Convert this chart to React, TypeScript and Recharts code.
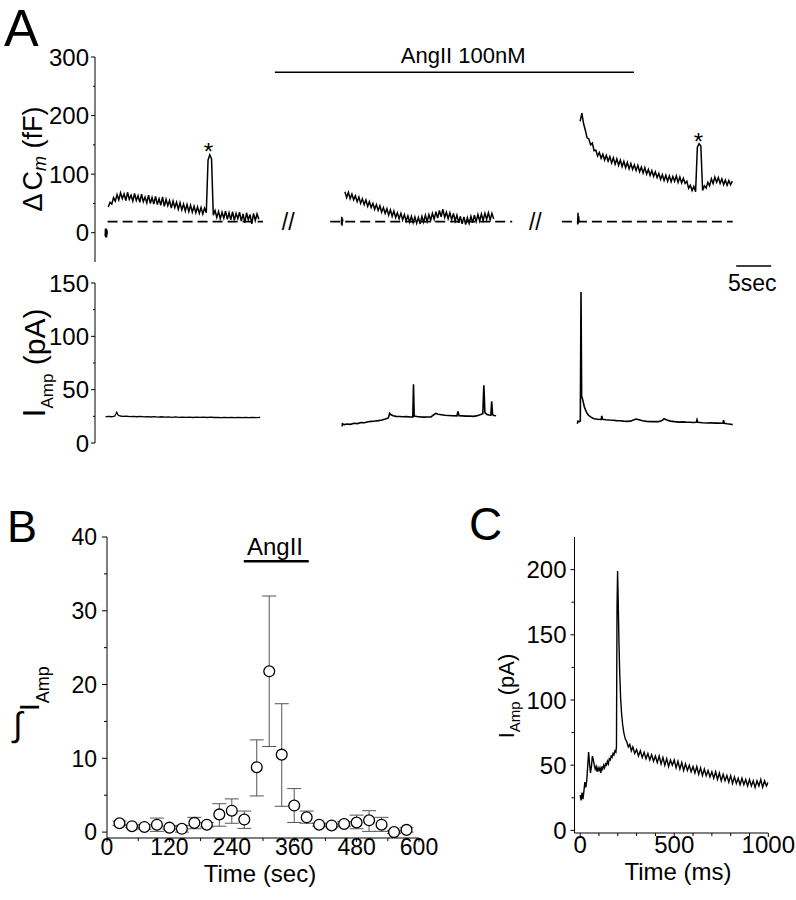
import React from 'react';
import {
  LineChart,
  Line,
  XAxis,
  YAxis,
  ReferenceLine,
  ReferenceDot,
  ScatterChart,
  Scatter,
  ErrorBar,
} from 'recharts';

const FONT = '"Liberation Sans", Arial, Helvetica, sans-serif';

// ---------------- Panel A (upper): membrane capacitance, time in s, ΔCm in fF
const capDt = 0.25;
const capSeg1Start = 1.9;
const capSeg1 = [
  44, 52, 49, 60, 54, 65, 56, 68, 58, 66, 55, 69, 57, 64, 54, 67, 55, 63, 52, 66,
  53, 61, 51, 64, 50, 60, 49, 62, 48, 58, 47, 61, 45, 57, 46, 55, 42, 54, 43, 52,
  40, 51, 39, 49, 37, 48, 36, 47, 35, 45, 34, 44, 33, 43, 32, 42, 34, 124, 133, 126,
  30, 38, 26, 36, 24, 35, 25, 37, 23, 34, 22, 36, 21, 33, 24, 35, 20, 32, 17, 34,
  22, 31, 15, 33, 21, 32, 23,
];
const capSeg2Start = 35.7;
const capSeg2 = [
  70, 60, 69, 58, 66, 56, 63, 53, 61, 50, 58, 48, 56, 45, 53, 43, 50, 40, 48, 38,
  46, 35, 43, 33, 41, 30, 39, 28, 37, 26, 34, 24, 33, 22, 31, 20, 29, 18, 28, 17,
  27, 16, 26, 15, 28, 18, 30, 19, 31, 21, 33, 23, 36, 25, 38, 27, 40, 26, 35, 24,
  34, 22, 33, 20, 30, 17, 28, 15, 27, 14, 26, 16, 28, 17, 30, 19, 31, 20, 32, 21,
  33, 23, 34, 22, 33, 24,
];
const capSeg3Start = 69.3;
const capSeg3 = [
  190, 204, 186, 175, 162, 160, 150, 153, 140, 141, 131, 137, 127, 134, 124, 132, 122, 130, 119, 128,
  117, 126, 115, 124, 113, 122, 111, 120, 109, 118, 108, 116, 106, 115, 104, 112, 102, 111, 100, 108,
  98, 106, 96, 104, 94, 101, 91, 99, 89, 98, 88, 97, 87, 96, 88, 97, 86, 95, 85, 93,
  84, 88, 76, 81, 72, 79, 70, 146, 152, 148, 72, 80, 76, 86, 80, 92, 84, 95, 86, 94,
  84, 92, 82, 90, 81, 89, 82, 88,
];
// short artefact marks at the start of each recording piece [t, fF]
const capBlob1 = [[1.5, -6], [1.55, 7], [1.6, -8], [1.65, 5], [1.7, -3]];
const capBlob2 = [[35.2, 14], [35.25, 27], [35.3, 12], [35.35, 24], [35.4, 19]];
const capBlob3 = [[68.95, 14], [69.0, 34], [69.05, 16], [69.1, 28], [69.15, 19]];
const capBaseline = 19;
const baselinePieces = [[1.8, 24.0], [33.6, 59.6], [66.7, 91.1]];
const breakMarks = [27.6, 62.9];
const stars = [[16.2, 138], [86.2, 155]];
const angBarA = { from: 25.7, to: 77, level: 274, label: 'AngII 100nM', labelT: 52.6, labelLevel: 303 };

// ---------------- Panel A (lower): amperometric current, pA
const curSeg1 = [
  [1.5, 24.7], [2.0, 25.0], [2.4, 24.6], [2.8, 25.2], [3.0, 27.4], [3.1, 28.8], [3.3, 26.2], [3.6, 25.3],
  [4.0, 25.0], [4.5, 25.2], [5.0, 24.7], [5.5, 25.0], [6.0, 24.6], [6.5, 24.9], [7.0, 24.5], [7.5, 24.8],
  [8.0, 24.4], [8.5, 24.7], [9.0, 24.3], [9.5, 24.6], [10.0, 24.2], [10.5, 24.5], [11.0, 24.1], [11.5, 24.4],
  [12.0, 24.1], [12.5, 24.3], [13.0, 24.0], [13.5, 24.3], [14.0, 23.9], [14.5, 24.2], [15.0, 24.0], [15.5, 24.3],
  [16.0, 23.9], [16.5, 24.2], [17.0, 23.9], [17.5, 24.1], [18.0, 23.8], [18.5, 24.1], [19.0, 23.8], [19.5, 24.1],
  [20.0, 23.8], [20.5, 24.0], [21.0, 23.7], [21.5, 24.0], [22.0, 23.7], [22.5, 24.0], [23.0, 23.8], [23.6, 24.0],
];
const curSeg2 = [
  [35.3, 15.5], [35.35, 18.0], [35.6, 17.2], [36.0, 17.8], [36.5, 17.5], [37.0, 18.5], [37.5, 18.2], [38.0, 19.2],
  [38.5, 19.0], [39.0, 20.0], [39.5, 20.3], [40.0, 20.6], [40.5, 21.0], [41.0, 21.5], [41.5, 22.5], [41.9, 23.5],
  [42.1, 27.8], [42.3, 26.5], [42.6, 25.5], [43.0, 25.0], [43.5, 24.8], [44.0, 24.6], [44.5, 24.7], [45.0, 24.4],
  [45.4, 24.5], [45.5, 55.0], [45.6, 25.2], [46.0, 24.8], [46.5, 24.5], [47.0, 24.3], [47.5, 24.4], [48.0, 24.5],
  [48.4, 26.5], [48.7, 27.8], [49.0, 27.0], [49.5, 26.5], [50.0, 26.0], [50.5, 25.8], [51.0, 25.6], [51.7, 25.4],
  [51.85, 29.5], [52.0, 25.6], [52.5, 25.4], [53.0, 25.2], [53.5, 25.3], [54.0, 25.0], [54.5, 25.4], [55.0, 26.5],
  [55.4, 27.5], [55.55, 54.0], [55.7, 28.5], [56.0, 26.8], [56.3, 26.2], [56.55, 26.0], [56.67, 39.0], [56.8, 26.5],
  [57.0, 25.8], [57.3, 25.5],
];
const curSeg3 = [
  [68.9, 18.0], [69.0, 20.5], [69.2, 20.0], [69.33, 20.5], [69.43, 141.5], [69.52, 44.0], [69.7, 40.0], [69.9, 34.0],
  [70.2, 29.0], [70.5, 26.0], [70.9, 24.0], [71.3, 22.8], [71.8, 22.2], [72.3, 22.0], [72.4, 25.5], [72.5, 22.3],
  [73.0, 21.8], [73.5, 21.5], [74.0, 21.3], [74.5, 21.0], [75.0, 20.8], [75.5, 20.5], [76.0, 20.3], [76.5, 20.5],
  [77.0, 21.8], [77.3, 22.5], [77.7, 21.8], [78.2, 20.8], [78.8, 20.3], [79.5, 20.0], [80.0, 20.2], [80.5, 20.0],
  [81.0, 21.0], [81.3, 22.8], [81.7, 21.5], [82.2, 20.5], [82.8, 20.0], [83.5, 19.6], [84.0, 19.8], [84.5, 19.4],
  [85.0, 19.5], [85.5, 19.2], [85.9, 19.4], [86.0, 21.8], [86.1, 19.4], [86.8, 19.0], [87.5, 18.8], [88.0, 19.0],
  [88.5, 18.6], [89.0, 18.7], [89.7, 18.5], [89.8, 21.5], [89.9, 18.5], [90.3, 18.0], [90.8, 17.5], [91.1, 17.2],
];
const scaleBar = { from: 91.6, to: 96.6, level: 166, label: '5sec', labelT: 93.9, labelLevel: 150 };

// ---------------- Panel B: integrated amperometric current per time bin
const bTimes = [24, 48, 72, 96, 120, 144, 168, 192, 216, 240, 264, 288, 312, 336, 360, 384, 408, 432, 456, 480, 504, 528, 552, 576];
const bMeans = [1.2, 0.8, 0.7, 1.0, 0.6, 0.45, 1.25, 1.0, 2.4, 2.9, 1.7, 8.8, 21.8, 10.5, 3.6, 2.0, 1.0, 0.9, 1.1, 1.3, 1.6, 1.0, 0.0, 0.3];
const bErrLow = [0.3, 0.2, 0.3, 0.9, 0.2, 0.45, 0.8, 0.3, 1.6, 1.7, 1.2, 3.9, 10.2, 7.0, 2.3, 0.8, 0.2, 0.2, 0.3, 0.85, 1.5, 0.9, 0.2, 0.3];
const bErrHigh = [0.3, 0.2, 0.3, 0.9, 0.2, 0.45, 0.75, 0.3, 1.45, 1.6, 1.15, 3.7, 10.2, 6.9, 2.3, 0.85, 0.2, 0.2, 0.3, 1.0, 1.3, 1.0, 0.2, 0.3];
const angBarB = { from: 263, to: 388, level: 36.7, label: 'AngII', labelT: 323, labelLevel: 38.7 };

// ---------------- Panel C: single amperometric event, ms vs pA
const cTrace = [
  [0, 27], [5, 23], [10, 29], [15, 24], [20, 30], [25, 37], [30, 33], [35, 38], [40, 49], [45, 60],
  [50, 51], [55, 44], [60, 49], [65, 57], [70, 54], [75, 50], [80, 47], [85, 49], [90, 45], [95, 48],
  [100, 46], [105, 48], [110, 44], [115, 49], [120, 47], [125, 50], [130, 48], [135, 51], [140, 50], [145, 53],
  [150, 51], [155, 55], [160, 54], [165, 57], [170, 56], [175, 59], [180, 58], [185, 61], [190, 60], [193, 64],
  [196, 170], [199, 199], [202, 178], [206, 146], [210, 122], [215, 102], [220, 90], [226, 81], [232, 75], [240, 70],
  [248, 68], [256, 64], [264, 66], [272, 61], [280, 64], [290, 59], [300, 62], [310, 57], [320, 61], [330, 56],
  [340, 60], [350, 55], [360, 59], [370, 54], [380, 58], [390, 53], [400, 57], [410, 52], [420, 57], [430, 51],
  [440, 56], [450, 50], [460, 55], [470, 49], [480, 54], [490, 50], [500, 54], [510, 48], [520, 53], [530, 47],
  [540, 52], [550, 46], [560, 51], [570, 46], [580, 50], [590, 45], [600, 49], [610, 44], [620, 49], [630, 43],
  [640, 48], [650, 42], [660, 47], [670, 42], [680, 46], [690, 41], [700, 45], [710, 40], [720, 45], [730, 39],
  [740, 44], [750, 38], [760, 43], [770, 38], [780, 42], [790, 37], [800, 42], [810, 36], [820, 41], [830, 36],
  [840, 40], [850, 35], [860, 40], [870, 35], [880, 39], [890, 34], [900, 39], [910, 34], [920, 38], [930, 33],
  [940, 38], [950, 34], [960, 39], [970, 33], [980, 38], [990, 34], [1000, 37],
];

// ---------------- tick lists
const capTicks = [0, 50, 100, 150, 200, 250, 300];
const capMajor = [0, 100, 200, 300];
const curTicks = [0, 25, 50, 75, 100, 125, 150];
const curMajor = [0, 50, 100, 150];
const bYTicks = [0, 5, 10, 15, 20, 25, 30, 35, 40];
const bYMajor = [0, 10, 20, 30, 40];
const bXTicks = [0, 60, 120, 180, 240, 300, 360, 420, 480, 540, 600];
const bXMajor = [0, 120, 240, 360, 480, 600];
const cYTicks = [0, 25, 50, 75, 100, 125, 150, 175, 200];
const cYMajor = [0, 50, 100, 150, 200];
const cXTicks = [0, 100, 200, 300, 400, 500, 600, 700, 800, 900, 1000];
const cXMajor = [0, 500, 1000];

// ---------------- helpers
const fromSamples = (t0: number, dt: number, vals: number[]) =>
  vals.map((v, i) => ({ t: Math.round((t0 + i * dt) * 1000) / 1000, v }));
const fromPairs = (pairs: number[][]) => pairs.map(([t, v]) => ({ t, v }));

const bData = bTimes.map((t, i) => ({ t, v: bMeans[i], err: [bErrLow[i], bErrHigh[i]] }));

const makeYTick = (majors: number[], fontSize: number, majorLen: number, minorLen: number, gap: number) =>
  (p: any) => {
    const val = p.payload.value;
    const isMajor = majors.includes(val);
    return (
      <g>
        <line x1={p.x - (isMajor ? majorLen : minorLen)} x2={p.x} y1={p.y} y2={p.y} stroke="#000" strokeWidth={1} />
        {isMajor && (
          <text x={p.x - gap} y={p.y} dy="0.36em" textAnchor="end" fontSize={fontSize} fill="#000" fontFamily={FONT}>
            {val}
          </text>
        )}
      </g>
    );
  };

const makeXTick = (majors: number[], fontSize: number, majorLen: number, minorLen: number, base: number) =>
  (p: any) => {
    const val = p.payload.value;
    const isMajor = majors.includes(val);
    return (
      <g>
        <line x1={p.x} x2={p.x} y1={p.y} y2={p.y + (isMajor ? majorLen : minorLen)} stroke="#000" strokeWidth={1} />
        {isMajor && (
          <text x={p.x} y={p.y + base} textAnchor="middle" fontSize={fontSize} fill="#000" fontFamily={FONT}>
            {val}
          </text>
        )}
      </g>
    );
  };

const capLabel = () => (
  <text transform="translate(42, 159) rotate(-90)" textAnchor="middle" fontSize={27} fill="#000" fontFamily={FONT}>
    Δ<tspan dx={3}>C</tspan>
    <tspan fontSize={18} fontStyle="italic" dy={4}>m</tspan>
    <tspan dy={-4}> (fF)</tspan>
  </text>
);

const curLabel = () => (
  <text transform="translate(45, 113) rotate(-90)" textAnchor="middle" fontSize={30} fill="#000" fontFamily={FONT}>
    <tspan fontSize={32}>I</tspan>
    <tspan fontSize={17} dy={8}>Amp</tspan>
    <tspan dy={-8}> (pA)</tspan>
  </text>
);

const bYLabel = () => (
  <g fontFamily={FONT} fill="#000">
    <text x={18} y={236} textAnchor="middle" fontSize={34}>∫</text>
    <text transform="translate(39, 211) rotate(-90)" textAnchor="start" fontSize={28}>
      I<tspan fontSize={18} dy={10}>Amp</tspan>
    </text>
  </g>
);
const bXLabel = () => (
  <text x={260} y={382} textAnchor="middle" fontSize={24} fill="#000" fontFamily={FONT}>Time (sec)</text>
);
const cYLabel = () => (
  <text transform="translate(74, 196) rotate(-90)" textAnchor="middle" fontSize={22} fill="#000" fontFamily={FONT}>
    I<tspan fontSize={15} dy={6}>Amp</tspan>
    <tspan dy={-6}> (pA)</tspan>
  </text>
);
const cXLabel = () => (
  <text x={238} y={380} textAnchor="middle" fontSize={24} fill="#000" fontFamily={FONT}>Time (ms)</text>
);

const circleShape = (p: any) => (
  <circle cx={p.cx} cy={p.cy} r={5.4} fill="#fff" stroke="#000" strokeWidth={1.3} />
);

const traceProps = {
  type: 'linear' as const,
  dataKey: 'v',
  dot: false,
  activeDot: false,
  stroke: '#000',
  strokeWidth: 1.5,
  isAnimationActive: false,
};

const labelStyle = (value: string, fontSize: number) => ({
  value,
  position: 'center' as const,
  fontSize,
  fill: '#000',
  fontFamily: FONT,
});

export default function App() {
  return (
    <div
      style={{
        position: 'absolute',
        left: 0,
        top: 0,
        width: 796,
        height: 900,
        background: '#fff',
        fontFamily: FONT,
        overflow: 'hidden',
      }}
    >
      {/* Panel A upper: capacitance */}
      <div style={{ position: 'absolute', left: 0, top: 0 }}>
        <LineChart width={796} height={270} margin={{ top: 57, right: 1, bottom: 8, left: 35 }}>
          <XAxis type="number" dataKey="t" domain={[0, 100]} hide allowDataOverflow />
          <YAxis
            type="number"
            domain={[-50, 300]}
            ticks={capTicks}
            interval={0}
            width={60}
            tickLine={false}
            tickSize={0}
            tickMargin={0}
            axisLine={{ stroke: '#000', strokeWidth: 1 }}
            tick={makeYTick(capMajor, 24, 4, 2, 6)}
            label={capLabel}
            allowDataOverflow
          />
          {baselinePieces.map(([a, b], i) => (
            <ReferenceLine
              key={'bl' + i}
              segment={[{ x: a, y: capBaseline }, { x: b, y: capBaseline }]}
              stroke="#000"
              strokeWidth={1.8}
              strokeDasharray="10 5"
              ifOverflow="visible"
            />
          ))}
          <ReferenceLine
            segment={[{ x: angBarA.from, y: angBarA.level }, { x: angBarA.to, y: angBarA.level }]}
            stroke="#000"
            strokeWidth={1.6}
            ifOverflow="visible"
          />
          <ReferenceDot
            x={angBarA.labelT}
            y={angBarA.labelLevel}
            r={0}
            fill="none"
            stroke="none"
            ifOverflow="visible"
            label={labelStyle(angBarA.label, 22)}
          />
          {breakMarks.map((t, i) => (
            <ReferenceDot
              key={'br' + i}
              x={t}
              y={capBaseline}
              r={0}
              fill="none"
              stroke="none"
              ifOverflow="visible"
              label={labelStyle('//', 23)}
            />
          ))}
          {stars.map(([t, v], i) => (
            <ReferenceDot
              key={'st' + i}
              x={t}
              y={v}
              r={0}
              fill="none"
              stroke="none"
              ifOverflow="visible"
              label={labelStyle('*', 24)}
            />
          ))}
          <Line {...traceProps} data={fromPairs(capBlob1)} strokeWidth={2.2} />
          <Line {...traceProps} data={fromPairs(capBlob2)} />
          <Line {...traceProps} data={fromPairs(capBlob3)} />
          <Line {...traceProps} data={fromSamples(capSeg1Start, capDt, capSeg1)} />
          <Line {...traceProps} data={fromSamples(capSeg2Start, capDt, capSeg2)} />
          <Line {...traceProps} data={fromSamples(capSeg3Start, capDt, capSeg3)} />
        </LineChart>
      </div>

      {/* Panel A lower: amperometric current */}
      <div style={{ position: 'absolute', left: 0, top: 250 }}>
        <LineChart width={796} height={220} margin={{ top: 33, right: 1, bottom: 27, left: 35 }}>
          <XAxis type="number" dataKey="t" domain={[0, 100]} hide allowDataOverflow />
          <YAxis
            type="number"
            domain={[0, 150]}
            ticks={curTicks}
            interval={0}
            width={60}
            tickLine={false}
            tickSize={0}
            tickMargin={0}
            axisLine={{ stroke: '#000', strokeWidth: 1 }}
            tick={makeYTick(curMajor, 24, 4, 2, 6)}
            label={curLabel}
            allowDataOverflow
          />
          <ReferenceLine
            segment={[{ x: scaleBar.from, y: scaleBar.level }, { x: scaleBar.to, y: scaleBar.level }]}
            stroke="#000"
            strokeWidth={1.6}
            ifOverflow="visible"
          />
          <ReferenceDot
            x={scaleBar.labelT}
            y={scaleBar.labelLevel}
            r={0}
            fill="none"
            stroke="none"
            ifOverflow="visible"
            label={labelStyle(scaleBar.label, 23)}
          />
          <Line {...traceProps} data={fromPairs(curSeg1)} strokeWidth={1.3} />
          <Line {...traceProps} data={fromPairs(curSeg2)} strokeWidth={1.6} />
          <Line {...traceProps} data={fromPairs(curSeg3)} strokeWidth={1.6} />
        </LineChart>
      </div>

      {/* Panel B */}
      <div style={{ position: 'absolute', left: 0, top: 500 }}>
        <ScatterChart width={440} height={400} margin={{ top: 37, right: 21, bottom: 32, left: 47 }}>
          <XAxis
            type="number"
            dataKey="t"
            domain={[0, 600]}
            ticks={bXTicks}
            interval={0}
            height={30}
            tickLine={false}
            tickSize={0}
            tickMargin={0}
            axisLine={{ stroke: '#000', strokeWidth: 1 }}
            tick={makeXTick(bXMajor, 23, 4, 3, 17)}
            label={bXLabel}
            allowDataOverflow
          />
          <YAxis
            type="number"
            dataKey="v"
            domain={[-0.8, 40]}
            ticks={bYTicks}
            interval={0}
            width={60}
            tickLine={false}
            tickSize={0}
            tickMargin={0}
            axisLine={{ stroke: '#000', strokeWidth: 1 }}
            tick={makeYTick(bYMajor, 23, 5, 3, 10)}
            label={bYLabel}
            allowDataOverflow
          />
          <ReferenceLine
            segment={[{ x: angBarB.from, y: angBarB.level }, { x: angBarB.to, y: angBarB.level }]}
            stroke="#000"
            strokeWidth={2.5}
            ifOverflow="visible"
          />
          <ReferenceDot
            x={angBarB.labelT}
            y={angBarB.labelLevel}
            r={0}
            fill="none"
            stroke="none"
            ifOverflow="visible"
            label={labelStyle(angBarB.label, 24)}
          />
          <Scatter data={bData} dataKey="v" shape={circleShape} isAnimationActive={false}>
            <ErrorBar dataKey="err" direction="y" width={7} stroke="#555" strokeWidth={1} />
          </Scatter>
        </ScatterChart>
      </div>

      {/* Panel C */}
      <div style={{ position: 'absolute', left: 440, top: 500 }}>
        <LineChart width={356} height={400} margin={{ top: 37, right: 27.7, bottom: 37, left: 74.5 }}>
          <XAxis
            type="number"
            dataKey="t"
            domain={[-30, 1000]}
            ticks={cXTicks}
            interval={0}
            height={30}
            tickLine={false}
            tickSize={0}
            tickMargin={0}
            axisLine={{ stroke: '#000', strokeWidth: 1 }}
            tick={makeXTick(cXMajor, 24, 4, 3, 20)}
            label={cXLabel}
            allowDataOverflow
          />
          <YAxis
            type="number"
            domain={[-2, 225]}
            ticks={cYTicks}
            interval={0}
            width={60}
            tickLine={false}
            tickSize={0}
            tickMargin={0}
            axisLine={{ stroke: '#000', strokeWidth: 1 }}
            tick={makeYTick(cYMajor, 24, 4, 3, 8)}
            label={cYLabel}
            allowDataOverflow
          />
          <Line {...traceProps} data={fromPairs(cTrace)} strokeWidth={1.4} />
        </LineChart>
      </div>

      {/* panel letters */}
      <svg
        width={796}
        height={900}
        style={{ position: 'absolute', left: 0, top: 0, pointerEvents: 'none' }}
        fontFamily={FONT}
      >
        <text x={4} y={46} fontSize={52} fill="#000">A</text>
        <text x={7} y={542} fontSize={45} fill="#000">B</text>
        <text x={469} y={540} fontSize={46} fill="#000">C</text>
      </svg>
    </div>
  );
}
